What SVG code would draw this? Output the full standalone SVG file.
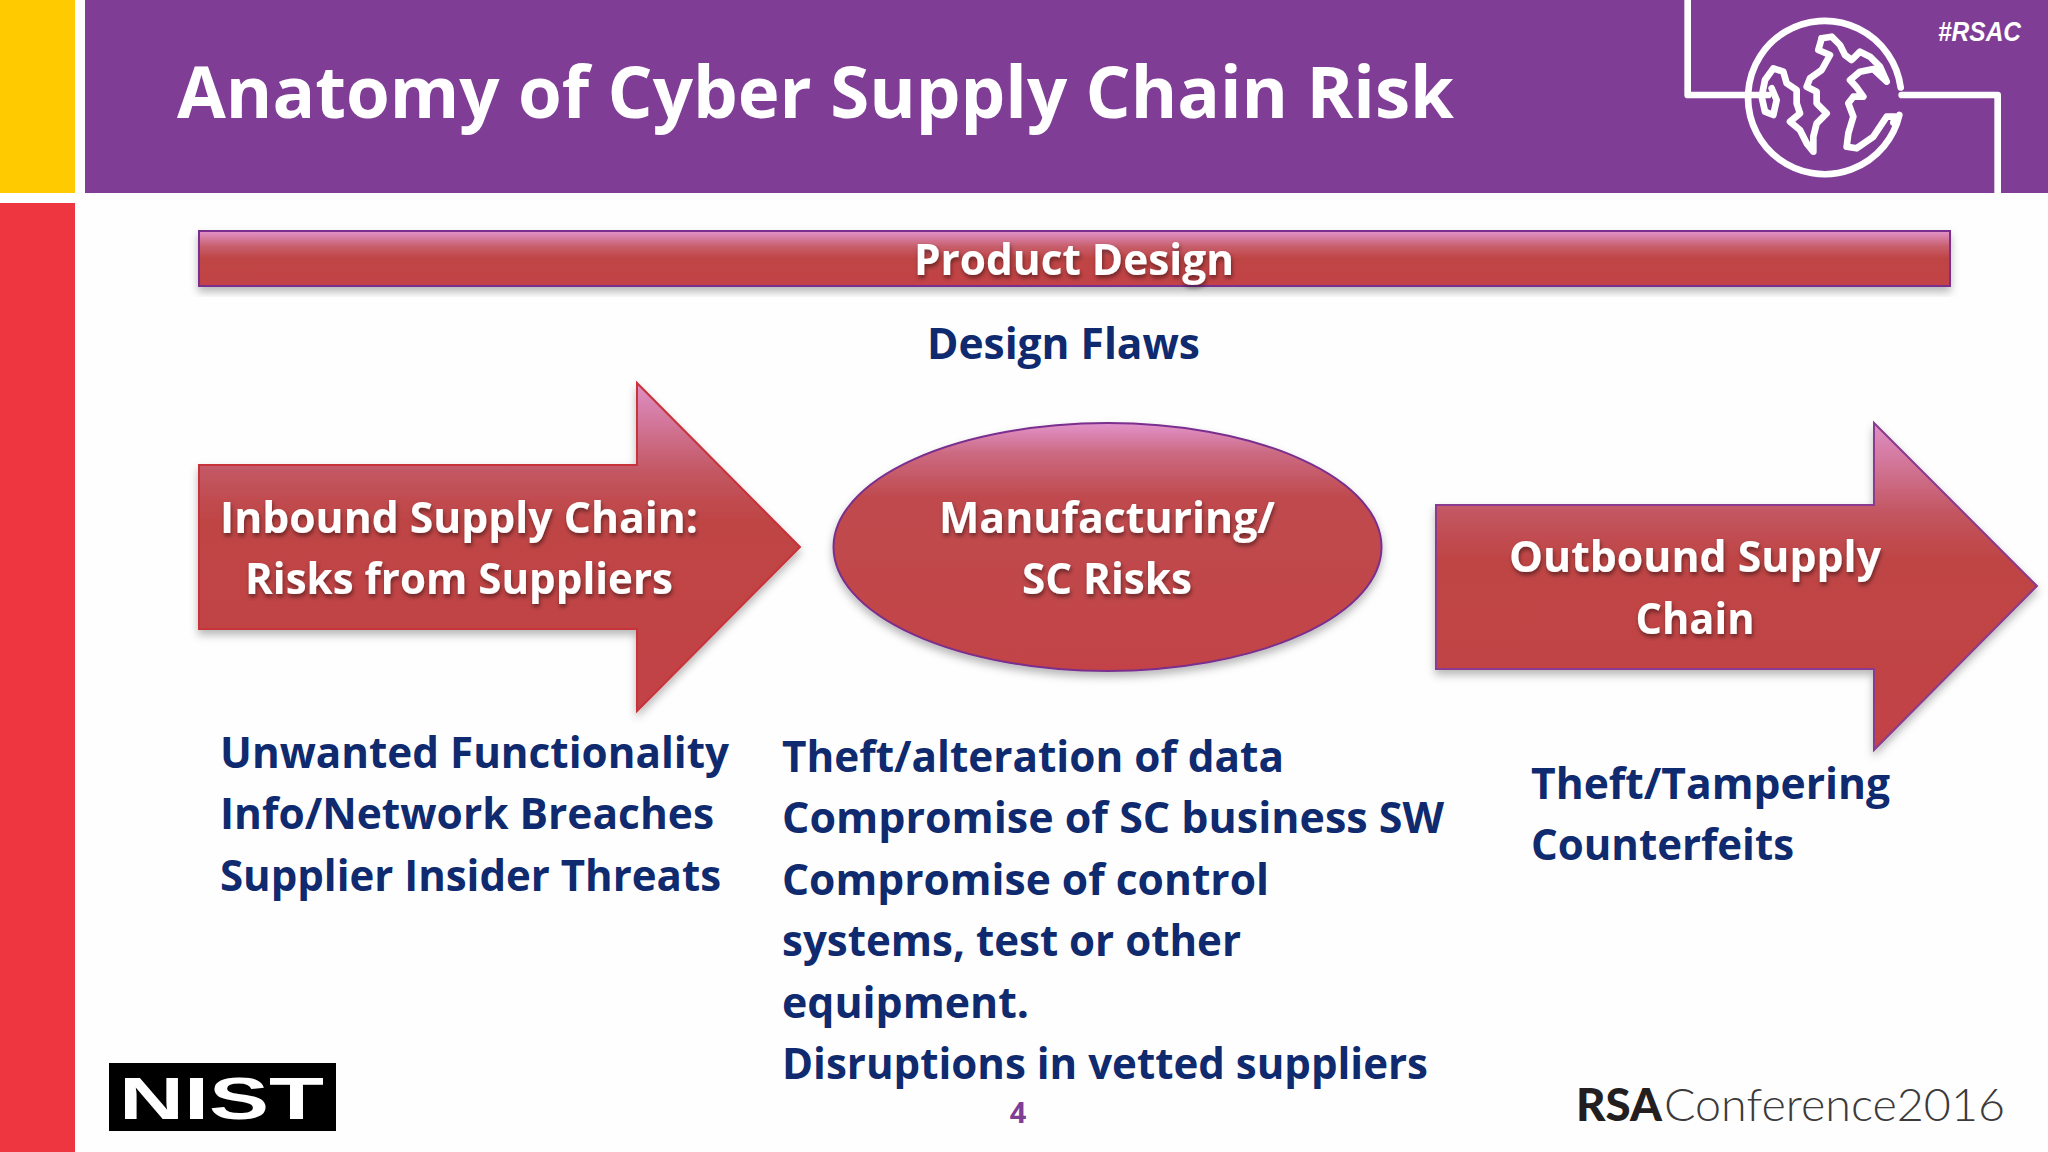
<svg xmlns="http://www.w3.org/2000/svg" width="2048" height="1152" viewBox="0 0 2048 1152">
<defs>
<linearGradient id="g" x1="0" y1="0" x2="0" y2="1"><stop offset="0" stop-color="#e293cc"/><stop offset="0.28" stop-color="#c75f6c"/><stop offset="0.5" stop-color="#bf4444"/><stop offset="1" stop-color="#c24346"/></linearGradient>
<linearGradient id="ge" x1="0" y1="0" x2="0" y2="1"><stop offset="0" stop-color="#e293cc"/><stop offset="0.12" stop-color="#cc6a82"/><stop offset="0.3" stop-color="#bf4a4e"/><stop offset="1" stop-color="#c24346"/></linearGradient>
<linearGradient id="ga" gradientUnits="userSpaceOnUse" x1="0" y1="383" x2="0" y2="712"><stop offset="0" stop-color="#df8fc6"/><stop offset="0.28" stop-color="#c2555f"/><stop offset="0.42" stop-color="#bf4444"/><stop offset="1" stop-color="#c24346"/></linearGradient>
<linearGradient id="gb" gradientUnits="userSpaceOnUse" x1="0" y1="423" x2="0" y2="750"><stop offset="0" stop-color="#df8fc6"/><stop offset="0.28" stop-color="#c2555f"/><stop offset="0.42" stop-color="#bf4444"/><stop offset="1" stop-color="#c24346"/></linearGradient>
<filter id="sh" x="-10%" y="-20%" width="120%" height="140%"><feDropShadow dx="0" dy="5" stdDeviation="4" flood-color="#000" flood-opacity="0.28"/></filter>
<filter id="ts" x="-5%" y="-20%" width="110%" height="150%"><feDropShadow dx="1" dy="3" stdDeviation="2" flood-color="#000" flood-opacity="0.45"/></filter>
<filter id="soft" x="-5%" y="-5%" width="110%" height="110%"><feGaussianBlur stdDeviation="0.6"/></filter>
</defs>
<style>
text{font-family:"Open Sans","Noto Sans","Liberation Sans",sans-serif;font-weight:700}
.w{fill:#fff;font-size:43px;text-anchor:middle;filter:url(#ts)}
.b{fill:#0f2a6e;font-size:43px}
.l{fill:none;stroke:#fff;stroke-width:20;stroke-linejoin:round;stroke-linecap:round}
</style>
<rect width="2048" height="1152" fill="#fefefe"/>
<rect x="0" y="0" width="75" height="193" fill="#ffcb00"/>
<rect x="0" y="203" width="75" height="949" fill="#ee3640"/>
<rect x="85" y="0" width="1963" height="193" fill="#803d96"/>
<text x="177" y="118" fill="#fff" font-size="72" textLength="1277" lengthAdjust="spacingAndGlyphs">Anatomy of Cyber Supply Chain Risk</text>
<g id="decor" transform="translate(1640 0) scale(0.33333)" filter="url(#soft)">
<path class="l" d="M143 0V285H330M785 285H1073V578"/>
<path class="l" d="M778 345A230 230 0 1 1 782 262"/>
<path class="l" d="M330 285H385M545 115L575 110L600 135L615 165L635 180L660 155L690 170L720 200L740 245L700 207L660 215L630 240L650 262L670 290L640 290L625 310L640 350L625 400L620 440L650 445L700 410L740 350L765 350L760 368"/>
<path class="l" d="M545 115L535 150L570 165L545 210L510 235L500 260L530 275L530 310L560 340L530 370L520 410L520 455L500 430L480 390L450 365L480 340L470 310L470 270L440 250L430 215L400 205L375 240L365 290L375 335L400 345L410 300L395 265"/>
</g>
<text x="2021" y="41" fill="#fff" font-size="27" text-anchor="end" style='font-family:"Liberation Sans",sans-serif;font-weight:700;font-style:italic' textLength="83" lengthAdjust="spacingAndGlyphs">#RSAC</text>
<g id="product-design">
<rect x="199" y="231" width="1751" height="55" fill="url(#g)" stroke="#7a2f8e" stroke-width="2" filter="url(#sh)"/>
<text class="w" x="1074" y="275" textLength="320" lengthAdjust="spacingAndGlyphs">Product Design</text>
</g>
<text class="b" x="927" y="359" textLength="273" lengthAdjust="spacingAndGlyphs">Design Flaws</text>
<g id="inbound">
<path d="M199 465H637V383L800 547L637 711V629H199Z" fill="url(#ga)" stroke="#c8323a" stroke-width="2" filter="url(#sh)"/>
<text class="w" x="459" y="533" textLength="478" lengthAdjust="spacingAndGlyphs">Inbound Supply Chain:</text>
<text class="w" x="459" y="594" textLength="428" lengthAdjust="spacingAndGlyphs">Risks from Suppliers</text>
</g>
<g id="manufacturing">
<ellipse cx="1107.500" cy="547" rx="274" ry="124" fill="url(#ge)" stroke="#7a2f8e" stroke-width="2" filter="url(#sh)"/>
<text class="w" x="1107" y="533" textLength="336" lengthAdjust="spacingAndGlyphs">Manufacturing/</text>
<text class="w" x="1107" y="594" textLength="170" lengthAdjust="spacingAndGlyphs">SC Risks</text>
</g>
<g id="outbound">
<path d="M1436 505H1874V423L2037 586L1874 750V669H1436Z" fill="url(#gb)" stroke="#8b3a8f" stroke-width="2" filter="url(#sh)"/>
<text class="w" x="1695" y="572" textLength="372" lengthAdjust="spacingAndGlyphs">Outbound Supply</text>
<text class="w" x="1695" y="634" textLength="119" lengthAdjust="spacingAndGlyphs">Chain</text>
</g>
<g id="inbound-risks">
<text class="b" x="220" y="768" textLength="509" lengthAdjust="spacingAndGlyphs">Unwanted Functionality</text>
<text class="b" x="220" y="829" textLength="494" lengthAdjust="spacingAndGlyphs">Info/Network Breaches</text>
<text class="b" x="220" y="891" textLength="501" lengthAdjust="spacingAndGlyphs">Supplier Insider Threats</text>
</g>
<g id="manufacturing-risks">
<text class="b" x="782" y="772" textLength="502" lengthAdjust="spacingAndGlyphs">Theft/alteration of data</text>
<text class="b" x="782" y="833" textLength="662" lengthAdjust="spacingAndGlyphs">Compromise of SC business SW</text>
<text class="b" x="782" y="895" textLength="487" lengthAdjust="spacingAndGlyphs">Compromise of control</text>
<text class="b" x="782" y="956" textLength="459" lengthAdjust="spacingAndGlyphs">systems, test or other</text>
<text class="b" x="782" y="1018" textLength="247" lengthAdjust="spacingAndGlyphs">equipment.</text>
<text class="b" x="782" y="1079" textLength="646" lengthAdjust="spacingAndGlyphs">Disruptions in vetted suppliers</text>
</g>
<g id="outbound-risks">
<text class="b" x="1531" y="799" textLength="359" lengthAdjust="spacingAndGlyphs">Theft/Tampering</text>
<text class="b" x="1531" y="860" textLength="263" lengthAdjust="spacingAndGlyphs">Counterfeits</text>
</g>
<text x="1018" y="1123" fill="#803d96" font-size="29" text-anchor="middle">4</text>
<g id="nist-logo">
<rect x="109" y="1063" width="227" height="68" fill="#000"/>
<text x="119" y="1119" fill="#fff" font-size="60" textLength="205" lengthAdjust="spacingAndGlyphs" style='font-family:"Liberation Sans",sans-serif;font-weight:700'>NIST</text>
</g>
<text x="1576" y="1121" fill="#231f20" font-size="46" textLength="86" lengthAdjust="spacingAndGlyphs" style="font-family:Lato,sans-serif;font-weight:900">RSA</text>
<text x="1664" y="1121" fill="#3c3a3b" font-size="46" textLength="341" lengthAdjust="spacingAndGlyphs" style="font-family:Lato,sans-serif;font-weight:300">Conference2016</text>
</svg>
